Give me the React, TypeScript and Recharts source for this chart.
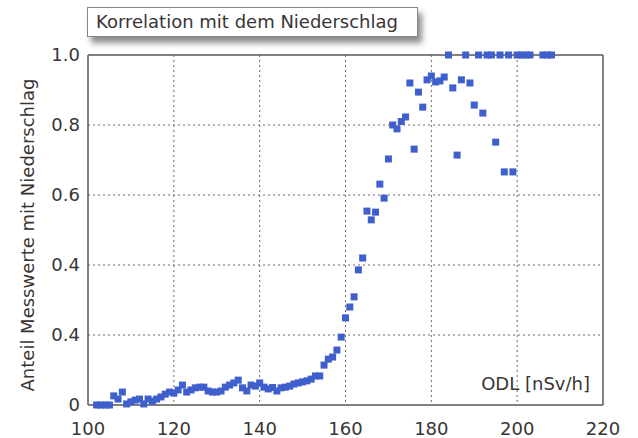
import React from "react";
import {
  ScatterChart,
  Scatter,
  XAxis,
  YAxis,
  CartesianGrid,
  ReferenceLine,
} from "recharts";

// ODL values [nSv/h]
const odl: number[] = [
  102, 103, 104, 105, 106, 107, 108, 109, 110, 111, 112, 113, 114, 115, 116, 117,
  118, 119, 120, 121, 122, 123, 124, 125, 126, 127, 128, 129, 130, 131, 132, 133,
  134, 135, 136, 137, 138, 139, 140, 141, 142, 143, 144, 145, 146, 147, 148, 149,
  150, 151, 152, 153, 154, 155, 156, 157, 158, 159, 160, 161, 162, 163, 164, 165,
  166, 167, 168, 169, 170, 171, 172, 173, 174, 175, 176, 177, 178, 179, 180, 181,
  182, 183, 184, 185, 186, 187, 188, 189, 190, 191, 192, 193, 194, 195, 196, 197,
  198, 199, 200, 201, 202, 203, 206, 207, 208,
];

// Share of measurements with precipitation
const share: number[] = [
  0, 0, 0, 0, 0.026, 0.017, 0.037, 0.003, 0.009, 0.014, 0.017, 0.003, 0.017, 0.011, 0.017, 0.023,
  0.031, 0.037, 0.034, 0.043, 0.057, 0.037, 0.043, 0.049, 0.051, 0.051, 0.04, 0.037, 0.037, 0.04, 0.051, 0.057,
  0.063, 0.071, 0.049, 0.04, 0.057, 0.054, 0.063, 0.051, 0.046, 0.05, 0.04, 0.049, 0.051, 0.054, 0.06, 0.063,
  0.066, 0.069, 0.074, 0.083, 0.083, 0.114, 0.131, 0.137, 0.157, 0.194, 0.249, 0.28, 0.309, 0.386, 0.42, 0.554,
  0.529, 0.551, 0.631, 0.591, 0.703, 0.8, 0.789, 0.81, 0.823, 0.92, 0.731, 0.894, 0.851, 0.929, 0.94, 0.923,
  0.926, 0.937, 1.0, 0.906, 0.714, 0.929, 1.0, 0.92, 0.857, 1.0, 0.834, 1.0, 1.0, 0.751, 1.0, 0.666,
  1.0, 0.666, 1.0, 1.0, 1.0, 1.0, 1.0, 1.0, 1.0,
];

const xTicks: number[] = [100, 120, 140, 160, 180, 200, 220];
const yTicks: number[] = [0, 0.2, 0.4, 0.6, 0.8, 1.0];
const yTickLabels: string[] = ["0", "0.4", "0.4", "0.6", "0.8", "1.0"];

const titleText = "Korrelation mit dem Niederschlag";
const yLabelText = "Anteil Messwerte mit Niederschlag";
const xLabelText = "ODL [nSv/h]";

const data = odl.map((x, i) => ({ x, y: share[i] }));

const FONT = "'DejaVu Sans', Verdana, sans-serif";
const TEXT_COLOR = "#3a3434";
const AXIS_COLOR = "#5e5454";
const MARK_COLOR = "#3f5fcc";

const SquareMark = (props: any) => {
  const { cx, cy } = props;
  if (cx == null || cy == null) return null;
  return <rect x={cx - 3.5} y={cy - 3.5} width={7} height={7} fill={MARK_COLOR} />;
};

export default function App() {
  return (
    <div
      style={{
        position: "absolute",
        left: 0,
        top: 0,
        width: 638,
        height: 438,
        background: "#ffffff",
        fontFamily: FONT,
      }}
    >
      <ScatterChart
        width={638}
        height={438}
        margin={{ top: 55, right: 35, bottom: 0, left: 0 }}
      >
        <CartesianGrid
          stroke="#6a6a6a"
          strokeDasharray="2 3"
          horizontalValues={[0.2, 0.4, 0.6, 0.8]}
          verticalValues={[120, 140, 160, 180, 200]}
        />
        <XAxis
          type="number"
          dataKey="x"
          domain={[100, 220]}
          ticks={xTicks}
          interval={0}
          height={33}
          tickLine={false}
          tickSize={0}
          tickMargin={17}
          axisLine={{ stroke: AXIS_COLOR, strokeWidth: 1.5 }}
          tick={{ fill: TEXT_COLOR, fontSize: 18, fontFamily: FONT }}
        />
        <YAxis
          type="number"
          dataKey="y"
          domain={[0, 1]}
          ticks={yTicks}
          interval={0}
          width={88}
          tickLine={false}
          tickSize={0}
          tickMargin={8}
          axisLine={{ stroke: AXIS_COLOR, strokeWidth: 1.5 }}
          tick={{ fill: TEXT_COLOR, fontSize: 18, fontFamily: FONT }}
          tickFormatter={(v: number) => {
            const idx = yTicks.findIndex((t) => Math.abs(t - v) < 1e-9);
            return idx >= 0 ? yTickLabels[idx] : String(v);
          }}
        />
        <ReferenceLine y={1} stroke={AXIS_COLOR} strokeWidth={1.5} />
        <ReferenceLine x={220} stroke={AXIS_COLOR} strokeWidth={1.5} />
        <Scatter data={data} shape={SquareMark} isAnimationActive={false} />
      </ScatterChart>

      {/* Title box */}
      <div
        style={{
          position: "absolute",
          left: 87,
          top: 7,
          width: 321,
          height: 28,
          border: "1px solid #8a8585",
          background: "#ffffff",
          boxShadow: "4px 6px 6px rgba(0,0,0,0.45)",
          fontFamily: FONT,
          fontSize: 18,
          lineHeight: "28px",
          color: TEXT_COLOR,
          paddingLeft: 8,
          boxSizing: "content-box",
          whiteSpace: "nowrap",
        }}
      >
        {titleText}
      </div>

      {/* Y axis label */}
      <div
        style={{
          position: "absolute",
          left: 28 - 200,
          top: 235 - 10,
          width: 400,
          height: 20,
          lineHeight: "20px",
          textAlign: "center",
          transform: "rotate(-90deg)",
          transformOrigin: "50% 50%",
          fontFamily: FONT,
          fontSize: 18,
          color: TEXT_COLOR,
          whiteSpace: "nowrap",
        }}
      >
        {yLabelText}
      </div>

      {/* X axis label inside plot */}
      <div
        style={{
          position: "absolute",
          right: 48,
          top: 375,
          lineHeight: "18px",
          fontFamily: FONT,
          fontSize: 18,
          color: TEXT_COLOR,
          whiteSpace: "nowrap",
          background: "transparent",
        }}
      >
        {xLabelText}
      </div>
    </div>
  );
}
